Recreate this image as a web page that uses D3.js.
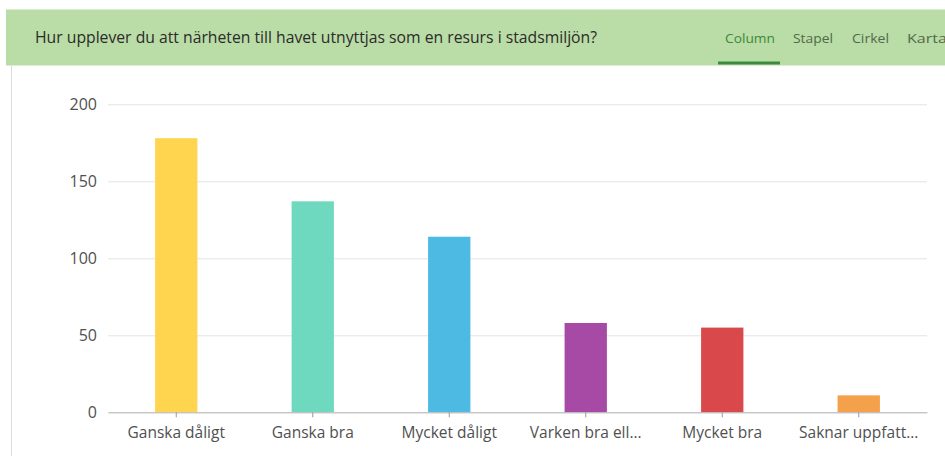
<!DOCTYPE html>
<html>
<head>
<meta charset="utf-8">
<script src="https://cdn.jsdelivr.net/npm/d3@7"></script>
<style>
  body { margin: 0; background: #fff; }
  svg { display: block; font-family: "Open Sans", sans-serif; }
</style>
</head>
<body>
<div id="chart"></div>
<script>
var svgWidth = 945;
var svgHeight = 456;

var title = "Hur upplever du att närheten till havet utnyttjas som en resurs i stadsmiljön?";
var tabs = ["Column", "Stapel", "Cirkel", "Karta"];
var categories = ["Ganska dåligt", "Ganska bra", "Mycket dåligt", "Varken bra ell...", "Mycket bra", "Saknar uppfatt..."];
var counts = [178, 137, 114, 58, 55, 11];
var colors = ["#ffd54f", "#6fd9bf", "#4cbae3", "#a64aa6", "#d9484a", "#f5a04a"];
var yTicks = [0, 50, 100, 150, 200];

var margin = { top: 104.3, right: 18, bottom: 43.7, left: 108 };
var width = svgWidth - margin.left - margin.right;
var height = svgHeight - margin.top - margin.bottom;

var svg = d3.select("#chart")
  .append("svg")
  .attr("width", svgWidth)
  .attr("height", svgHeight);

// header band
svg.append("rect")
  .attr("x", 6).attr("y", 9.5)
  .attr("width", svgWidth - 6).attr("height", 56)
  .attr("fill", "#badca6");

// left frame line
svg.append("line")
  .attr("x1", 11.5).attr("x2", 11.5)
  .attr("y1", 65.5).attr("y2", svgHeight)
  .attr("stroke", "#dcdcdc");

svg.append("text")
  .attr("x", 35).attr("y", 43)
  .attr("font-size", 15.5)
  .attr("fill", "#2b2b2b")
  .attr("textLength", 562)
  .attr("lengthAdjust", "spacingAndGlyphs")
  .text(title);

var tabX = [725, 793, 852, 907];
var tabW = [50, 40, 37, 40];
svg.selectAll(".tab").data(tabs).enter()
  .append("text")
  .attr("class", "tab")
  .attr("x", (d, i) => tabX[i])
  .attr("y", 43)
  .attr("font-size", 13)
  .attr("fill", (d, i) => i === 0 ? "#3a8a3a" : "#4f6a4a")
  .attr("textLength", (d, i) => tabW[i])
  .attr("lengthAdjust", "spacingAndGlyphs")
  .text(d => d);

svg.append("rect")
  .attr("x", 718).attr("y", 61.5)
  .attr("width", 62).attr("height", 3)
  .attr("fill", "#3d8b40");

var chart = svg.append("g")
  .attr("transform", `translate(${margin.left}, ${margin.top})`);

var x = d3.scaleBand()
  .domain(categories)
  .range([0, width])
  .paddingInner(0.69)
  .paddingOuter(0.345);

var y = d3.scaleLinear()
  .domain([0, 200])
  .range([height, 0]);

// gridlines + y labels
var yAxis = chart.append("g")
  .call(d3.axisLeft(y).tickValues(yTicks).tickSize(-width).tickPadding(11));
yAxis.select(".domain").remove();
yAxis.selectAll(".tick line").attr("stroke", "#e3e3e3");
yAxis.selectAll(".tick text")
  .attr("font-size", 16)
  .attr("fill", "#505050")
  .attr("font-family", "Open Sans, sans-serif");

chart.selectAll(".bar").data(counts).enter()
  .append("rect")
  .attr("class", "bar")
  .attr("x", (d, i) => x(categories[i]))
  .attr("y", d => y(d))
  .attr("width", x.bandwidth())
  .attr("height", d => height - y(d))
  .attr("fill", (d, i) => colors[i]);

var xAxis = chart.append("g")
  .attr("transform", `translate(0, ${height})`)
  .call(d3.axisBottom(x).tickSize(5).tickPadding(10).tickSizeOuter(0));
xAxis.select(".domain").attr("stroke", "#b8b8b8");
xAxis.selectAll(".tick line").attr("stroke", "#999");
xAxis.selectAll(".tick text")
  .attr("font-size", 15.5)
  .attr("fill", "#505050")
  .attr("font-family", "Open Sans, sans-serif");
</script>
</body>
</html>
